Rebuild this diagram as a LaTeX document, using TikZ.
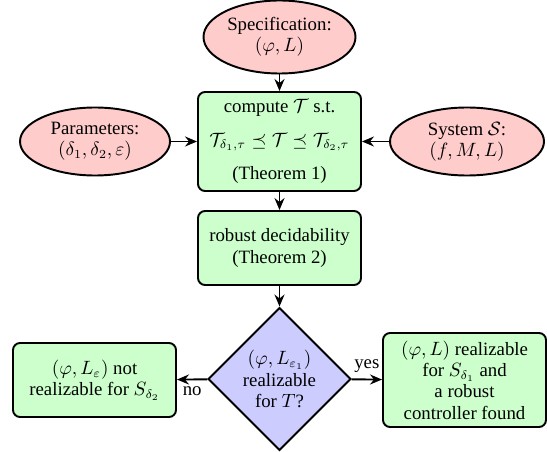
\documentclass[tikz,border=0pt]{standalone}
\usepackage[no-math]{fontspec}
\setmainfont{Liberation Serif}[Ligatures=TeX]
\usepackage{amsmath,amssymb}
\usetikzlibrary{arrows.meta, shapes.geometric}

\tikzset{
  inputnode/.style={ellipse, draw, line width=1.1pt, fill=red!20, align=center, inner sep=0pt},
  procbox/.style={rectangle, rounded corners=4pt, draw, line width=1.1pt, fill=green!20, align=center, minimum width=3.26cm},
  decision/.style={diamond, aspect=1, draw, line width=1.1pt, fill=blue!20, align=center, inner sep=0pt, minimum size=2.86cm},
  flow/.style={-{Stealth[length=2.4mm, width=2mm, inset=0.8mm]}, line width=1.1pt}
}

\begin{document}
\begin{tikzpicture}[font=\fontsize{10.7pt}{12.1pt}\selectfont]
\useasboundingbox (0,0) rectangle (10.94,-9.04);
% inputs
\node[inputnode, minimum width=3.04cm, minimum height=1.46cm] (spec) at (5.59,-0.74) {Specification:\\$(\varphi, L)$};
\node[inputnode, minimum width=3.0cm, minimum height=1.36cm] (param) at (1.9,-2.83) {Parameters:\\$(\delta_1, \delta_2, \varepsilon)$};
\node[inputnode, minimum width=3.08cm, minimum height=1.36cm] (sys) at (9.34,-2.83) {System $\mathcal{S}$:\\$(f, M, L)$};
% steps
\node[procbox, minimum height=1.98cm] (compute) at (5.59,-2.83) {compute $\mathcal{T}$ s.t.\\[7pt] $\mathcal{T}_{\delta_1,\tau} \preceq \mathcal{T} \preceq \mathcal{T}_{\delta_2,\tau}$\\[7pt] (Theorem 1)};
\node[procbox, minimum height=1.48cm] (robust) at (5.59,-4.96) {robust decidability\\(Theorem 2)};
\node[decision] (real) at (5.59,-7.58) {$(\varphi, L_{\varepsilon_1})$\\realizable\\for $T$?};
% outcomes
\node[procbox, minimum height=1.48cm] (notreal) at (1.89,-7.6) {$(\varphi, L_{\varepsilon})$ not\\realizable for $S_{\delta_2}$};
\node[procbox, minimum height=1.88cm] (found) at (9.29,-7.6) {$(\varphi, L)$ realizable\\for $S_{\delta_1}$ and\\a robust\\controller found};

\draw[flow] (spec) -- (compute);
\draw[flow] (param) -- (compute);
\draw[flow] (sys) -- (compute);
\draw[flow] (compute) -- (robust);
\draw[flow] (robust) -- (real);
\draw[flow] (real) -- node[above] {yes} (found);
\draw[flow] (real) -- node[below] {no} (notreal);
\end{tikzpicture}
\end{document}
